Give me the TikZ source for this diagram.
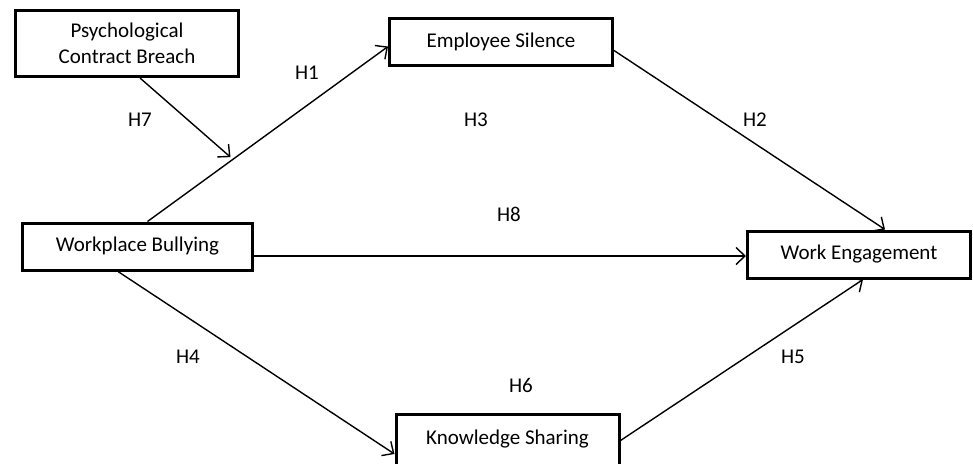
\documentclass[tikz,border=0pt]{standalone}
\usepackage{fontspec}
\setmainfont{Carlito}
\usetikzlibrary{arrows.meta}
\usetikzlibrary{positioning}

\begin{document}
\begin{tikzpicture}[x=1pt,y=-1pt,font=\fontsize{21}{26}\selectfont,
  box/.style={draw,line width=3pt,minimum width=223pt,minimum height=47pt,inner sep=0pt,align=center},
  link/.style={line width=1.4pt,-{Straight Barb[length=9pt,width=17pt]}},
  hyp/.style={inner sep=0pt}]
  \clip (0,0) rectangle (973,463);
  \node[box,minimum height=66pt] (pcb) at (127,43.5){Psychological\\Contract Breach};
  \node[box] (es) at (501,41.5){Employee Silence};
  \node[box,minimum width=230pt] (wb) at (137.5,246.5){Workplace Bullying};
  \node[box] (we) at (859,254.5){Work Engagement};
  % the lower edge runs off the page
  \node[box,minimum width=223pt,minimum height=0pt,text height=30pt,text depth=35pt,anchor=north] (ks) at (507.5,413){Knowledge Sharing};

  \draw[link] ([xshift=10pt]wb.north) -- coordinate[pos=0.345] (mod) ([yshift=-5pt]es.west);
  \draw[link] ([xshift=13pt]pcb.south) -- ([yshift=4pt]mod);
  \draw[link] ([yshift=-9pt]es.east) -- ([xshift=26pt]we.north);
  \draw[link] ([yshift=-9.5pt]wb.east) -- ([yshift=-9.5pt]wb.east -| we.west);
  \draw[link] ([xshift=-19.5pt]wb.south) -- ([yshift=-7pt]ks.west);
  \draw[link] ([yshift=6.5pt]ks.east) -- ([xshift=4pt]we.south);

  \node[hyp] (h1) at (307,73){H1};
  \node[hyp] (h2) at (755,120){H2};
  \node[hyp] (h3) at (476,120){H3};
  \node[hyp] (h4) at (188,357){H4};
  \node[hyp] (h5) at (793,357){H5};
  \node[hyp] (h6) at (521,385){H6};
  \node[hyp] (h7) at (140,120){H7};
  \node[hyp] (h8) at (509,214){H8};
\end{tikzpicture}
\end{document}
